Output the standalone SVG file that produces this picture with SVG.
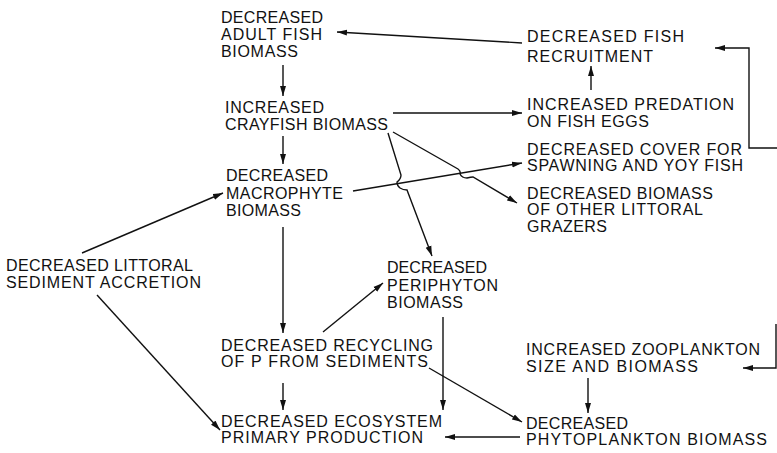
<svg xmlns="http://www.w3.org/2000/svg" width="777" height="453" viewBox="0 0 777 453">
<defs>
<marker id="ah" markerUnits="userSpaceOnUse" markerWidth="11" markerHeight="7" refX="10" refY="3.5" orient="auto">
<path d="M0,0.5 L10,3.5 L0,6.5 Z" fill="#111"/>
</marker>
<style>
text{font-family:"Liberation Sans",Arial,sans-serif;font-size:16px;fill:#111}
.c{fill:none;stroke:#111;stroke-width:1.4}
.a{marker-end:url(#ah)}
</style>
</defs>
<rect width="777" height="453" fill="#fff"/>
<g id="adult-fish">
<text x="221" y="23" textLength="102" lengthAdjust="spacing">DECREASED</text>
<text x="221" y="40" textLength="101" lengthAdjust="spacing">ADULT FISH</text>
<text x="221" y="57" textLength="77" lengthAdjust="spacing">BIOMASS</text>
</g>
<g id="crayfish">
<text x="225" y="113" textLength="99" lengthAdjust="spacing">INCREASED</text>
<text x="225" y="130" textLength="163" lengthAdjust="spacing">CRAYFISH BIOMASS</text>
</g>
<g id="macrophyte">
<text x="226" y="181" textLength="102" lengthAdjust="spacing">DECREASED</text>
<text x="226" y="199" textLength="117" lengthAdjust="spacing">MACROPHYTE</text>
<text x="226" y="216" textLength="75" lengthAdjust="spacing">BIOMASS</text>
</g>
<g id="littoral">
<text x="6" y="271" textLength="187" lengthAdjust="spacing">DECREASED LITTORAL</text>
<text x="6" y="288" textLength="195" lengthAdjust="spacing">SEDIMENT ACCRETION</text>
</g>
<g id="recycling">
<text x="221" y="351" textLength="212" lengthAdjust="spacing">DECREASED RECYCLING</text>
<text x="221" y="367" textLength="207" lengthAdjust="spacing">OF P FROM SEDIMENTS</text>
</g>
<g id="ecosystem">
<text x="221" y="427" textLength="221" lengthAdjust="spacing">DECREASED ECOSYSTEM</text>
<text x="221" y="443" textLength="202" lengthAdjust="spacing">PRIMARY PRODUCTION</text>
</g>
<g id="periphyton">
<text x="387" y="273" textLength="100" lengthAdjust="spacing">DECREASED</text>
<text x="387" y="291" textLength="111" lengthAdjust="spacing">PERIPHYTON</text>
<text x="387" y="308" textLength="76" lengthAdjust="spacing">BIOMASS</text>
</g>
<g id="phytoplankton">
<text x="526" y="429" textLength="102" lengthAdjust="spacing">DECREASED</text>
<text x="526" y="445" textLength="241" lengthAdjust="spacing">PHYTOPLANKTON BIOMASS</text>
</g>
<g id="zooplankton">
<text x="526" y="355" textLength="234" lengthAdjust="spacing">INCREASED ZOOPLANKTON</text>
<text x="526" y="372" textLength="172" lengthAdjust="spacing">SIZE AND BIOMASS</text>
</g>
<g id="recruitment">
<text x="527" y="42" textLength="157" lengthAdjust="spacing">DECREASED FISH</text>
<text x="527" y="62" textLength="126" lengthAdjust="spacing">RECRUITMENT</text>
</g>
<g id="predation">
<text x="527" y="110" textLength="207" lengthAdjust="spacing">INCREASED PREDATION</text>
<text x="527" y="127" textLength="122" lengthAdjust="spacing">ON FISH EGGS</text>
</g>
<g id="cover">
<text x="527" y="155" textLength="215" lengthAdjust="spacing">DECREASED COVER FOR</text>
<text x="527" y="171" textLength="216" lengthAdjust="spacing">SPAWNING AND YOY FISH</text>
</g>
<g id="grazers">
<text x="527" y="199" textLength="186" lengthAdjust="spacing">DECREASED BIOMASS</text>
<text x="527" y="215" textLength="176" lengthAdjust="spacing">OF OTHER LITTORAL</text>
<text x="527" y="232" textLength="80" lengthAdjust="spacing">GRAZERS</text>
</g>
<g id="connectors">
<path class="c a" d="M522,43 L337,32"/>
<path class="c a" d="M283,65 L283,96"/>
<path class="c a" d="M283,136 L283,164"/>
<path class="c a" d="M393,113 L522,113"/>
<path class="c a" d="M591,90 L591,66"/>
<path class="c a" d="M777,148 L749,148 L749,48 L715,48"/>
<path class="c a" d="M353,191 L522,163"/>
<path class="c a" d="M388,133 L401,175 Q401,179 397,182 Q397,186 400,188 Q403,190 407,190 L432,256"/>
<path class="c a" d="M393,132 L458,169 Q461,171 460,174 Q462,178 467,178 Q471,177 473,177 L517,203"/>
<path class="c a" d="M82,253 L223,193"/>
<path class="c a" d="M97,295 L220,430"/>
<path class="c a" d="M283,227 L283,333"/>
<path class="c a" d="M323,332 L383,283"/>
<path class="c a" d="M283,383 L283,410"/>
<path class="c a" d="M443,317 L443,410"/>
<path class="c a" d="M429,368 L522,422"/>
<path class="c a" d="M520,437 L445,437"/>
<path class="c a" d="M588,378 L588,413"/>
<path class="c a" d="M776,324 L776,368 L743,368"/>
</g>
</svg>
